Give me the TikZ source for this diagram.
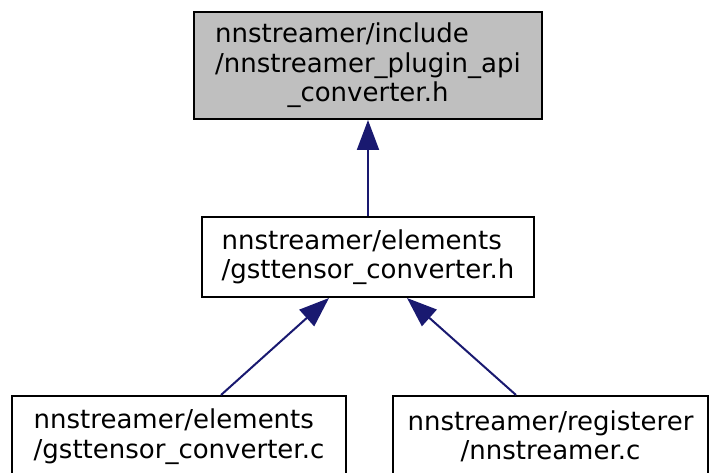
\documentclass[tikz,border=0pt]{standalone}
\usepackage{fontspec}
\setmainfont{DejaVu Sans}
\usepackage{calc}
\usetikzlibrary{arrows.meta}
\definecolor{edgeblue}{HTML}{191970}
\definecolor{filegray}{HTML}{BFBFBF}
\begin{document}
\begin{tikzpicture}[
    x=1pt, y=-1pt,
    every node/.style={font=\fontsize{26}{29.5}\selectfont, inner sep=0pt},
    file/.style={draw=black, line width=2pt, rectangle},
    edge/.style={draw=edgeblue, line width=2pt,
                 -{Triangle[length=30pt,width=22pt]}}
]
\useasboundingbox (0,0) rectangle (712,473);

\def\cx{368}

% header under documentation
\node[file, fill=filegray, align=center, minimum width=348pt, minimum height=107pt]
    (api) at (\cx, 65.5)
    {\makebox[\widthof{/nnstreamer\_plugin\_api}][l]{nnstreamer/include}\\
     /nnstreamer\_plugin\_api\\ \_converter.h};

% including header
\node[file, align=left, minimum width=332pt, minimum height=80pt]
    (convh) at (\cx, 257)
    {nnstreamer/elements\\/gsttensor\_converter.h};

% including sources
\node[file, align=left, minimum width=334pt, minimum height=81pt]
    (convc) at (179, 436.5)
    {nnstreamer/elements\\/gsttensor\_converter.c};
\node[file, align=center, minimum width=315pt, minimum height=81pt]
    (reg) at (550.5, 436.5)
    {nnstreamer/registerer\\/nnstreamer.c};

% include edges
\draw[edge] (convh.north) -- (api.south);
\draw[edge] ([xshift=42pt]convc.north) -- ([xshift=-39pt]convh.south);
\draw[edge] ([xshift=-34.5pt]reg.north) -- ([xshift=39pt]convh.south);

\end{tikzpicture}
\end{document}
